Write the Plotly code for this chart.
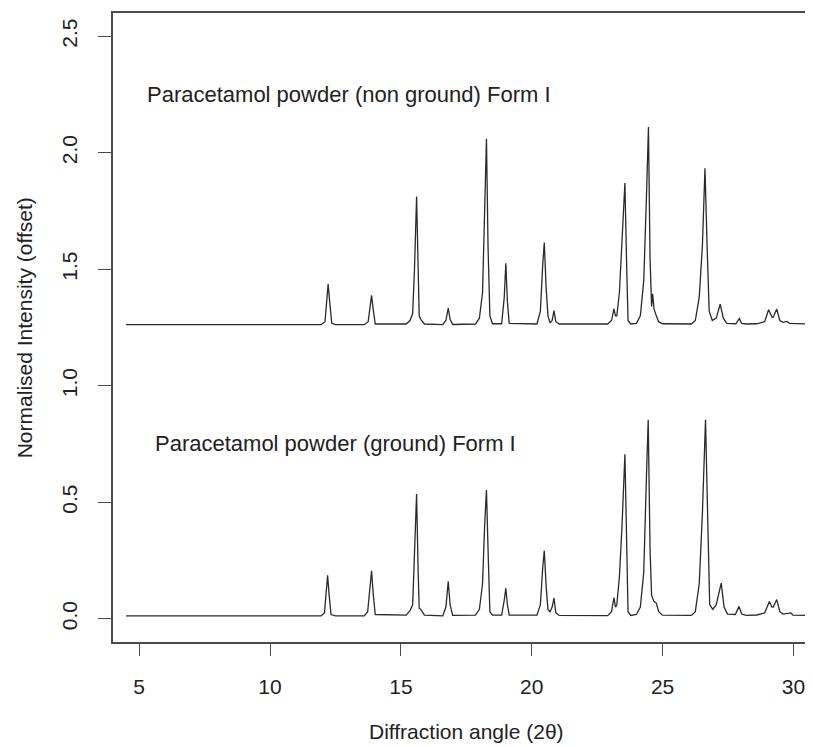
import plotly.graph_objects as go

# Upper trace: Paracetamol powder (non ground) Form I — vertices
upper_x = [4.5, 11.95, 12.10, 12.17, 12.22, 12.28, 12.36, 12.5, 13.6, 13.75, 13.83, 13.88, 13.94, 14.02,
           15.2, 15.35, 15.45, 15.52, 15.60, 15.66, 15.70, 15.76, 15.90, 16.6, 16.72, 16.81, 16.88, 16.98,
           17.85, 18.00, 18.12, 18.20, 18.27, 18.33, 18.40, 18.50, 18.85, 18.95, 19.01, 19.07, 19.14,
           20.2, 20.33, 20.42, 20.48, 20.55, 20.62, 20.70, 20.78, 20.85, 20.92, 21.05,
           22.9, 23.05, 23.14, 23.20, 23.25, 23.35, 23.45, 23.56, 23.63, 23.68, 23.78,
           24.0, 24.15, 24.28, 24.38, 24.46, 24.52, 24.58, 24.62, 24.67, 24.76, 24.85, 25.0,
           26.1, 26.25, 26.40, 26.52, 26.62, 26.70, 26.78, 26.90, 27.05, 27.20, 27.32, 27.45,
           27.80, 27.93, 28.02, 28.20, 28.6, 28.9, 29.05, 29.18, 29.23, 29.36, 29.48, 29.6, 29.75, 29.85, 31.0]
upper_y = [1.262, 1.262, 1.275, 1.38, 1.436, 1.36, 1.268, 1.262, 1.262, 1.275, 1.35, 1.388, 1.33, 1.265,
           1.265, 1.28, 1.31, 1.50, 1.812, 1.45, 1.30, 1.285, 1.265, 1.262, 1.28, 1.333, 1.285, 1.263,
           1.265, 1.29, 1.40, 1.75, 2.060, 1.60, 1.30, 1.266, 1.266, 1.38, 1.526, 1.36, 1.268,
           1.265, 1.32, 1.52, 1.615, 1.42, 1.30, 1.27, 1.28, 1.322, 1.275, 1.265,
           1.265, 1.28, 1.33, 1.30, 1.30, 1.40, 1.60, 1.870, 1.50, 1.28, 1.265,
           1.268, 1.30, 1.45, 1.80, 2.111, 1.55, 1.34, 1.395, 1.33, 1.30, 1.275, 1.266,
           1.265, 1.28, 1.38, 1.60, 1.934, 1.60, 1.32, 1.28, 1.29, 1.350, 1.29, 1.268,
           1.266, 1.288, 1.268, 1.265, 1.266, 1.275, 1.326, 1.295, 1.295, 1.329, 1.28, 1.272, 1.276, 1.268, 1.264]

# Lower trace: Paracetamol powder (ground) Form I
lower_x = [4.5, 11.95, 12.08, 12.15, 12.20, 12.26, 12.33, 12.5, 13.6, 13.73, 13.82, 13.88, 13.94, 14.02,
           15.2, 15.35, 15.45, 15.52, 15.60, 15.66, 15.70, 15.76, 15.90, 16.6, 16.72, 16.81, 16.88, 16.98,
           17.85, 18.00, 18.12, 18.20, 18.27, 18.33, 18.40, 18.50, 18.85, 18.95, 19.01, 19.07, 19.14,
           20.2, 20.33, 20.42, 20.48, 20.55, 20.62, 20.70, 20.78, 20.85, 20.92, 21.05,
           22.9, 23.05, 23.14, 23.20, 23.25, 23.35, 23.45, 23.56, 23.63, 23.68, 23.78,
           24.0, 24.15, 24.28, 24.38, 24.45, 24.52, 24.58, 24.62, 24.67, 24.76, 24.85, 25.0,
           26.1, 26.25, 26.40, 26.52, 26.64, 26.72, 26.80, 26.92, 27.05, 27.24, 27.35, 27.48,
           27.78, 27.92, 28.02, 28.20, 28.6, 28.9, 29.08, 29.18, 29.23, 29.36, 29.48, 29.6, 29.9, 29.98, 31.0]
lower_y = [0.012, 0.012, 0.025, 0.13, 0.186, 0.10, 0.018, 0.012, 0.012, 0.03, 0.15, 0.206, 0.11, 0.018,
           0.015, 0.035, 0.06, 0.30, 0.535, 0.20, 0.045, 0.04, 0.015, 0.012, 0.05, 0.160, 0.06, 0.014,
           0.015, 0.04, 0.15, 0.40, 0.552, 0.30, 0.03, 0.015, 0.015, 0.08, 0.131, 0.06, 0.016,
           0.015, 0.06, 0.22, 0.292, 0.14, 0.04, 0.03, 0.05, 0.088, 0.025, 0.014,
           0.013, 0.03, 0.091, 0.05, 0.06, 0.18, 0.40, 0.706, 0.25, 0.03, 0.014,
           0.018, 0.05, 0.20, 0.60, 0.854, 0.30, 0.10, 0.088, 0.075, 0.067, 0.03, 0.015,
           0.014, 0.03, 0.15, 0.45, 0.854, 0.45, 0.06, 0.04, 0.06, 0.153, 0.05, 0.02,
           0.018, 0.053, 0.02, 0.014, 0.016, 0.025, 0.074, 0.05, 0.05, 0.082, 0.03, 0.02, 0.025, 0.015, 0.013]

x_ticks = [5, 10, 15, 20, 25, 30]
y_ticks = [0.0, 0.5, 1.0, 1.5, 2.0, 2.5]
y_tick_labels = ["0.0", "0.5", "1.0", "1.5", "2.0", "2.5"]

labels = ["Paracetamol powder (non ground) Form I", "Paracetamol powder (ground) Form I"]
label_x = [13.0, 12.5]
label_y = [2.25, 0.75]

FONT = "Liberation Sans, Arial, sans-serif"
LINE = "#2a2a2a"
AX = "#4a4a4a"

# The page body has an 8px default margin, so the figure is sized/positioned to compensate.
FIG_W, FIG_H = 805, 739
ML, MT, MB = 105.3, 4.7, 105.3
PX_PER_X = 26.16

fig = go.Figure()
fig.add_trace(go.Scatter(x=upper_x, y=upper_y, mode="lines",
                         line=dict(color=LINE, width=1.3), showlegend=False, hoverinfo="skip"))
fig.add_trace(go.Scatter(x=lower_x, y=lower_y, mode="lines",
                         line=dict(color=LINE, width=1.3), showlegend=False, hoverinfo="skip"))

for t, lx, ly in zip(labels, label_x, label_y):
    fig.add_annotation(x=lx, y=ly, xref="x", yref="y", text=t, showarrow=False,
                       xanchor="center", yanchor="middle",
                       font=dict(family=FONT, size=22, color="#222"))

fig.add_annotation(x=17.5, xref="x", y=-0.143, yref="paper", text="Diffraction angle (2θ)",
                   showarrow=False, xanchor="center", yanchor="middle",
                   font=dict(family=FONT, size=21, color="#222"))
fig.add_annotation(x=-0.126, xref="paper", y=0.5, yref="paper", text="Normalised Intensity (offset)",
                   showarrow=False, xanchor="center", yanchor="middle", textangle=-90,
                   font=dict(family=FONT, size=21, color="#222"))

fig.update_layout(
    width=FIG_W, height=FIG_H,
    margin=dict(l=ML, r=0, t=MT, b=MB, pad=0),
    paper_bgcolor="white", plot_bgcolor="white",
    font=dict(family=FONT, size=21, color="#222"),
    xaxis=dict(range=[4, 4 + (FIG_W - ML) / PX_PER_X], tickvals=x_ticks, ticks="outside", ticklen=12,
               tickwidth=1.3, tickcolor=AX, showline=True, linecolor=AX, linewidth=1.5,
               mirror=True, showgrid=False, zeroline=False, ticklabelstandoff=13,
               tickfont=dict(family=FONT, size=21, color="#222")),
    yaxis=dict(range=[-0.1, 2.6], tickvals=y_ticks, ticktext=y_tick_labels, ticks="outside",
               ticklen=13, tickwidth=1.3, tickcolor=AX, showline=True, linecolor=AX, linewidth=1.5,
               showgrid=False, zeroline=False, tickangle=-90, ticklabelstandoff=13,
               tickfont=dict(family=FONT, size=21, color="#222")),
)

fig.write_html("out.html")
